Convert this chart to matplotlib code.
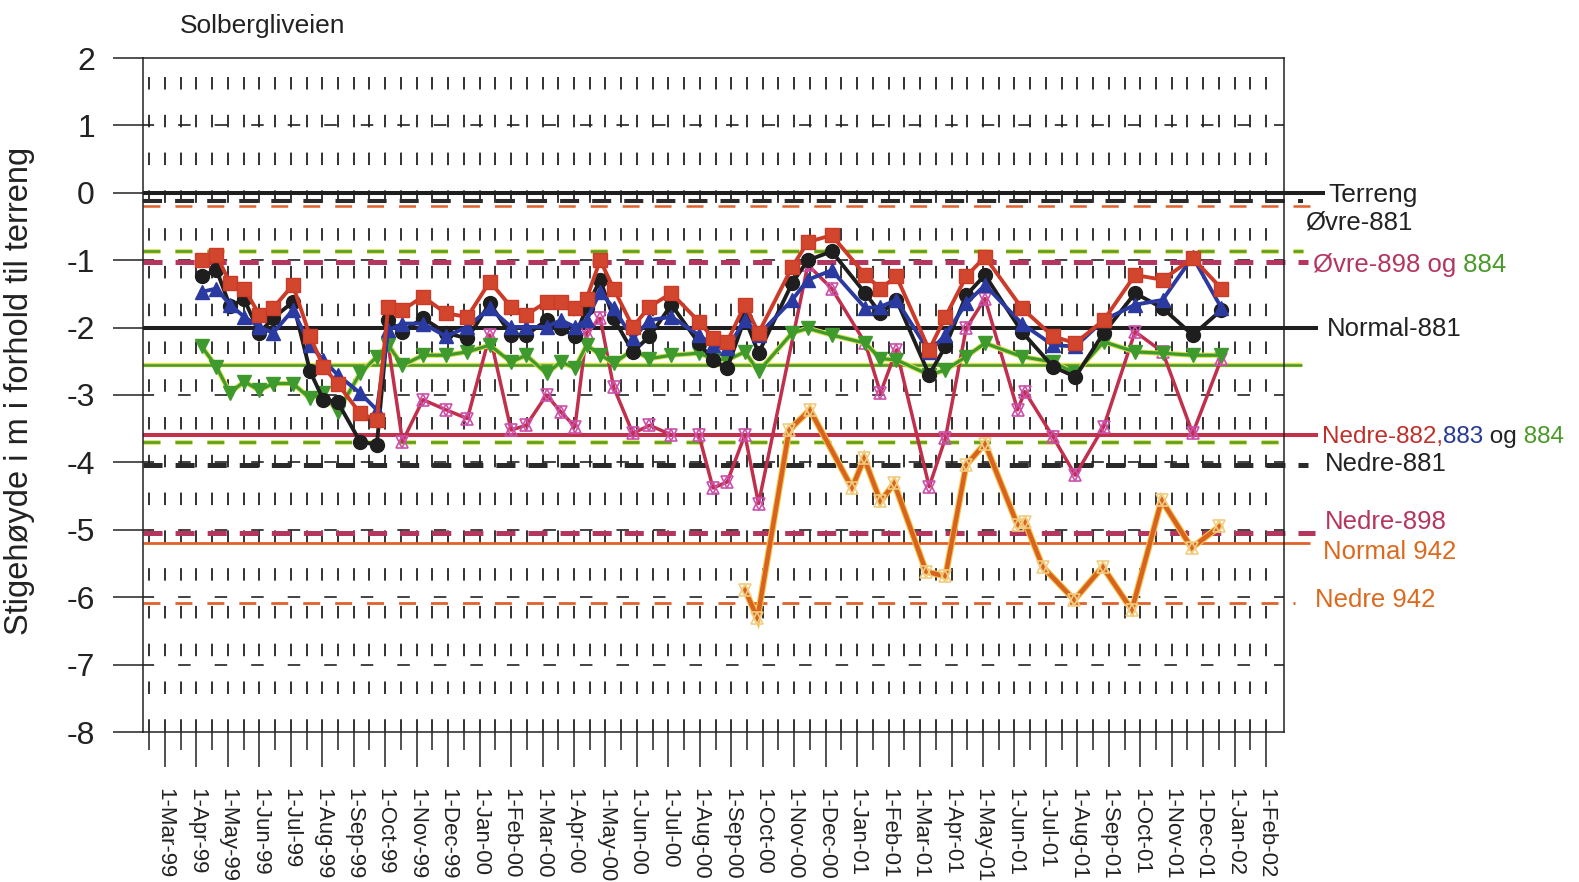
import calendar
import numpy as np
import matplotlib
matplotlib.use('Agg')
import matplotlib.pyplot as plt

plt.rcParams['font.family'] = ['Liberation Sans', 'DejaVu Sans']
plt.rcParams['lines.scale_dashes'] = False
plt.rcParams['axes.unicode_minus'] = False

# ---- data ----
MONTH_LABELS = ['1-Mar-99', '1-Apr-99', '1-May-99', '1-Jun-99', '1-Jul-99', '1-Aug-99',
                '1-Sep-99', '1-Oct-99', '1-Nov-99', '1-Dec-99', '1-Jan-00', '1-Feb-00',
                '1-Mar-00', '1-Apr-00', '1-May-00', '1-Jun-00', '1-Jul-00', '1-Aug-00',
                '1-Sep-00', '1-Oct-00', '1-Nov-00', '1-Dec-00', '1-Jan-01', '1-Feb-01',
                '1-Mar-01', '1-Apr-01', '1-May-01', '1-Jun-01', '1-Jul-01', '1-Aug-01',
                '1-Sep-01', '1-Oct-01', '1-Nov-01', '1-Dec-01', '1-Jan-02', '1-Feb-02']

DATES_MAIN = ['1999-04-06', '1999-04-20', '1999-05-03', '1999-05-17', '1999-06-01', '1999-06-14',
              '1999-07-03', '1999-07-20', '1999-08-02', '1999-08-16', '1999-09-07', '1999-09-23',
              '1999-10-04', '1999-10-18', '1999-11-07', '1999-11-29', '1999-12-20', '2000-01-11',
              '2000-02-01', '2000-02-15', '2000-03-05', '2000-03-19', '2000-04-02', '2000-04-13',
              '2000-04-26', '2000-05-09', '2000-05-28', '2000-06-13', '2000-07-04', '2000-07-31',
              '2000-08-14', '2000-08-28', '2000-09-14', '2000-09-27', '2000-10-30', '2000-11-14',
              '2000-12-07', '2001-01-09', '2001-01-24', '2001-02-08', '2001-03-10', '2001-03-26',
              '2001-04-15', '2001-05-03', '2001-06-08', '2001-07-08', '2001-07-30', '2001-08-27',
              '2001-09-26', '2001-10-23', '2001-11-21', '2001-12-19']

P881 = [-1.24, -1.14, -1.68, -1.58, -2.08, -1.86, -1.62, -2.65, -3.07, -3.10, -3.69, -3.74,
        -1.89, -2.06, -1.86, -2.08, -2.16, -1.64, -2.11, -2.11, -1.89, -2.01, -2.13, -1.71,
        -1.29, -1.86, -2.36, -2.13, -1.66, -2.23, -2.48, -2.60, -1.86, -2.38, -1.34, -1.00,
        -0.87, -1.49, -1.79, -1.59, -2.70, -2.28, -1.52, -1.22, -2.06, -2.58, -2.73, -2.08,
        -1.49, -1.71, -2.11, -1.74]
P882 = [-1.00, -0.92, -1.34, -1.42, -1.81, -1.71, -1.37, -2.13, -2.58, -2.83, -3.27, -3.37,
        -1.69, -1.74, -1.54, -1.79, -1.84, -1.32, -1.69, -1.81, -1.62, -1.62, -1.71, -1.57,
        -1.00, -1.42, -1.99, -1.69, -1.49, -1.91, -2.15, -2.21, -1.66, -2.08, -1.10, -0.73,
        -0.63, -1.22, -1.42, -1.24, -2.33, -1.84, -1.24, -0.95, -1.71, -2.13, -2.23, -1.89,
        -1.22, -1.29, -0.97, -1.42]
P883 = [-1.47, -1.42, -1.66, -1.84, -1.99, -2.08, -1.74, -2.26, -2.48, -2.70, -2.97, -3.22,
        -2.04, -1.94, -1.94, -2.13, -1.99, -1.71, -1.99, -1.99, -1.99, -1.89, -1.99, -1.89,
        -1.47, -1.71, -2.16, -1.89, -1.84, -2.11, -2.26, -2.31, -1.89, -2.11, -1.59, -1.29,
        -1.15, -1.71, -1.69, -1.59, -2.36, -2.11, -1.64, -1.37, -1.94, -2.26, -2.28, -1.89,
        -1.66, -1.59, -0.95, -1.71]
P884 = [-2.28, -2.58, -2.97, -2.80, -2.93, -2.83, -2.83, -3.05, -2.97, -3.25, -2.68, -2.43,
        -2.26, -2.56, -2.41, -2.41, -2.36, -2.26, -2.51, -2.41, -2.68, -2.51, -2.60, -2.26,
        -2.40, -2.53, -2.33, -2.46, -2.41, -2.38, -2.46, -2.48, -2.36, -2.65, -2.08, -2.01,
        -2.11, -2.23, -2.46, -2.48, -2.70, -2.63, -2.43, -2.23, -2.43, -2.51, -2.68, -2.21,
        -2.36, -2.38, -2.41, -2.41]

DATES_898 = ['1999-10-04', '1999-10-18', '1999-11-07', '1999-11-29', '1999-12-20', '2000-01-11',
             '2000-02-01', '2000-02-15', '2000-03-05', '2000-03-19', '2000-04-02', '2000-04-13',
             '2000-04-26', '2000-05-09', '2000-05-28', '2000-06-13', '2000-07-04', '2000-07-31',
             '2000-08-14', '2000-08-28', '2000-09-14', '2000-09-27', '2000-11-14', '2000-12-07',
             '2001-01-09', '2001-01-24', '2001-02-08', '2001-03-10', '2001-03-26', '2001-04-15',
             '2001-05-03', '2001-06-04', '2001-06-11', '2001-07-08', '2001-07-30', '2001-08-27',
             '2001-09-26', '2001-10-23', '2001-11-21', '2001-12-19']
P898 = [-2.26, -3.69, -3.07, -3.22, -3.35, -2.11, -3.52, -3.45, -3.00, -3.25, -3.47, -2.08,
        -1.86, -2.88, -3.57, -3.45, -3.59, -3.59, -4.38, -4.29, -3.59, -4.61, -1.07, -1.42,
        -2.23, -2.97, -2.33, -4.36, -3.64, -2.01, -1.57, -3.22, -2.95, -3.62, -4.19, -3.47,
        -2.06, -2.36, -3.57, -2.46]

DATES_942 = ['2000-09-14', '2000-09-26', '2000-10-27', '2000-11-16', '2000-12-27', '2001-01-08',
             '2001-01-24', '2001-02-06', '2001-03-07', '2001-03-26', '2001-04-15', '2001-05-03',
             '2001-06-04', '2001-06-11', '2001-06-28', '2001-07-29', '2001-08-26', '2001-09-23',
             '2001-10-22', '2001-11-20', '2001-12-17']
P942 = [-5.89, -6.31, -3.52, -3.22, -4.38, -3.94, -4.58, -4.31, -5.62, -5.69, -4.04, -3.72,
        -4.93, -4.88, -5.55, -6.04, -5.55, -6.19, -4.56, -5.27, -4.95]

# reference levels (m relative to terrain)
TERRENG = 0.0
OVRE_881 = -0.12
OVRE_942 = -0.20
OVRE_884 = -0.86
OVRE_898 = -1.02
NORMAL_881 = -2.01
NORMAL_884 = -2.56
NEDRE_882 = -3.60
NEDRE_884 = -3.69
NEDRE_881 = -4.04
NEDRE_898 = -5.05
NORMAL_942 = -5.19
NEDRE_942 = -6.08


def mpos(s):
    """date string -> position in months after 1-Mar-99"""
    y, m, d = map(int, s.split('-'))
    return (y - 1999) * 12 + (m - 3) + (d - 1) / calendar.monthrange(y, m)[1]


def px2x(px):
    return (px - 165) / 31.46


W, H = 1579, 882
fig = plt.figure(figsize=(W / 100, H / 100), dpi=100)
ax = fig.add_axes([143 / W, 1 - 732 / H, (1284 - 143) / W, (732 - 58) / H])
X0, X1 = px2x(143), px2x(1284)
ax.set_xlim(X0, X1)
ax.set_ylim(-8, 2)

for sp in ax.spines.values():
    sp.set_linewidth(1.1)
    sp.set_color('#222222')

# ---- dashed background grid ----
ax.vlines(np.arange(-0.5, 35.01, 0.5), 2, -8, colors='#222222', linewidth=1.3,
          linestyles=[(13.5, (9.0, 18.2))], zorder=1)
ax.hlines(np.arange(-7, 2), X0, X1, colors='#222222', linewidth=1.2,
          linestyles=[(1.0, (9.0, 17.3))], zorder=1)

# ---- ticks ----
ax.set_yticks(np.arange(-8, 3))
ax.set_yticklabels([str(v) for v in range(-8, 3)])
ax.tick_params(axis='y', direction='out', length=21.6, width=1.1, pad=13, labelsize=23,
               colors='#222222')
ax.set_xticks(np.arange(len(MONTH_LABELS)))
ax.set_xticklabels(MONTH_LABELS, rotation=270, fontsize=16)
ax.set_xticks(np.arange(-0.5, 35, 1), minor=True)
ax.tick_params(axis='x', which='major', direction='out', length=25, width=1.1, pad=15,
               colors='#222222')
ax.tick_params(axis='x', which='minor', direction='out', length=13, width=1.1,
               colors='#222222')

# ---- reference lines ----
DASH = (0, (13.7, 9.4))
DASH2 = (0, (12.2, 10.8))


def ref(v, px_end, color, lw, ls='-', under=None):
    if under:
        ax.plot([X0, px2x(px_end)], [v, v], color=under, lw=lw + 1.4, ls=ls,
                clip_on=False, zorder=2, solid_capstyle='butt')
    ax.plot([X0, px2x(px_end)], [v, v], color=color, lw=lw, ls=ls, clip_on=False,
            zorder=2, solid_capstyle='butt', dash_capstyle='butt')


ref(TERRENG, 1325, '#1e1e1e', 2.9)
ref(OVRE_881, 1303, '#2a2a2a', 2.9, DASH)
ref(OVRE_942, 1312, '#e0602a', 1.8, DASH2)
ref(OVRE_884, 1303, '#5a9e22', 1.9, DASH2, under='#d9e04a')
ref(OVRE_898, 1308, '#b4365e', 3.6, DASH)
ref(NORMAL_881, 1318, '#1e1e1e', 2.9)
ref(NORMAL_884, 1302, '#4a9a2a', 1.8, '-', under='#e0e050')
ref(NEDRE_882, 1318, '#c2304a', 2.9)
ref(NEDRE_884, 1293, '#5a9e22', 1.9, DASH2, under='#d9e04a')
ref(NEDRE_881, 1308, '#2a2a2a', 3.6, DASH)
ref(NEDRE_898, 1315, '#b4365e', 3.6, DASH)
ref(NORMAL_942, 1310, '#e0622a', 2.0)
ref(NEDRE_942, 1295, '#e0622a', 2.0, DASH2)

# ---- measured series ----
x_main = [mpos(d) for d in DATES_MAIN]
x_898 = [mpos(d) for d in DATES_898]
x_942 = [mpos(d) for d in DATES_942]


def hexagram(x, y, color, ms, z):
    for mk in ('^', 'v'):
        ax.plot(x, y, ls='none', marker=mk, ms=ms, mfc='none', mec=color, mew=1.2, zorder=z)


# 942
ax.plot(x_942, P942, color='#f2c64a', lw=4.8, zorder=3, solid_joinstyle='miter')
ax.plot(x_942, P942, color='#d8621e', lw=3.2, zorder=3, solid_joinstyle='miter')
hexagram(x_942, P942, '#f0cc80', 9, 3.1)

# 898
ax.plot(x_898, P898, color='#c0304c', lw=2.5, zorder=4)
hexagram(x_898, P898, '#cc50aa', 9, 4.1)

# 884
ax.plot(x_main, P884, color='#d9e04a', lw=3.8, zorder=5)
ax.plot(x_main, P884, color='#3f9a2e', lw=2.3, marker='v', ms=10, mfc='#3f9a2e',
        mec='#3f9a2e', zorder=5)

# 881
ax.plot(x_main, P881, color='#1e1e1e', lw=2.8, marker='o', ms=10, mfc='#1e1e1e',
        mec='#1e1e1e', zorder=6)
# 883
ax.plot(x_main, P883, color='#2b3aa0', lw=2.8, marker='^', ms=10, mfc='#2b3aa0',
        mec='#2b3aa0', zorder=7)
# 882
ax.plot(x_main, P882, color='#cc3a28', lw=2.8, marker='s', ms=10.5, mfc='#d2462e',
        mec='#cc3a28', zorder=8)

# ---- texts ----
fig.text(180 / W, 1 - 33 / H, 'Solbergliveien', fontsize=19, va='baseline', color='#222222')
fig.text(20 / W, 1 - 391 / H, 'Stigehøyde i m i forhold til terreng', fontsize=23.5,
         rotation=90, va='center', ha='center', color='#222222')


def multi(px, py, parts, size=18.5):
    t = fig.text(px / W, 1 - py / H, parts[0][0], color=parts[0][1], fontsize=size,
                 va='center', ha='left')
    for s, c in parts[1:]:
        t = ax.annotate(s, xy=(1, 0), xycoords=t, va='bottom', ha='left', color=c,
                        fontsize=size, annotation_clip=False)


BLK = '#222222'
CRIM = '#b4365e'
GRN = '#4a9a2a'
ORG = '#dc6a1e'
multi(1328, 195, [('Terreng', BLK)], 19)
multi(1305, 222, [('Øvre-881', BLK)])
multi(1313, 265, [('Øvre-898 og', CRIM), (' 884', GRN)])
multi(1327, 329, [('Normal-881', BLK)])
multi(1322, 437, [('Nedre-882,', '#c0302a'), ('883', '#253a90'), (' og', BLK), (' 884', GRN)], 17.5)
multi(1325, 464, [('Nedre-881', BLK)])
multi(1325, 522, [('Nedre-898', CRIM)])
multi(1323, 552, [('Normal 942', ORG)])
multi(1315, 600, [('Nedre 942', ORG)])

fig.savefig('out.png', dpi=100)
